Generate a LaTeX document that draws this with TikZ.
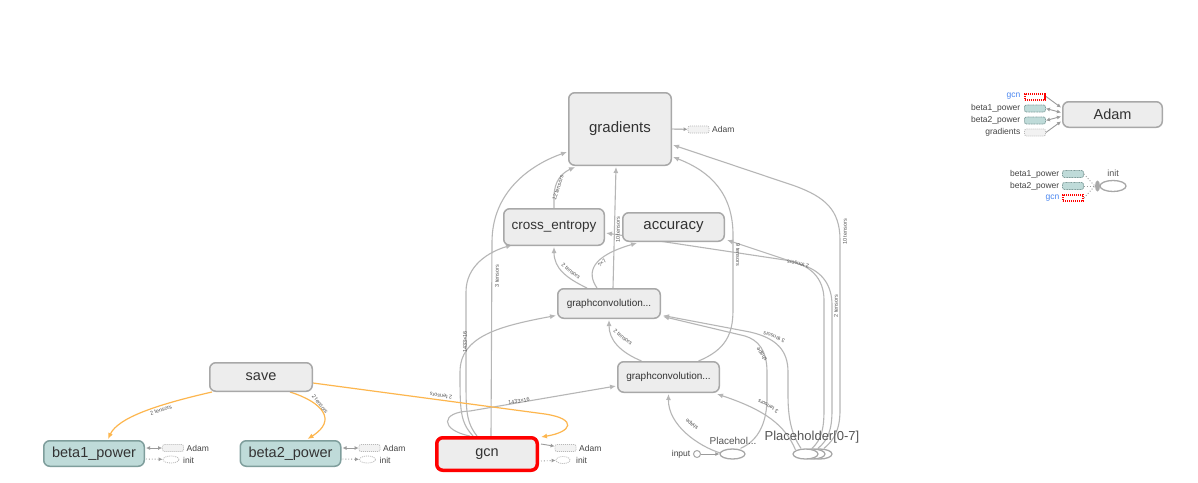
\documentclass[tikz,border=0pt]{standalone}
\usepackage{fontspec}
\setmainfont{Liberation Sans}
\usetikzlibrary{arrows.meta,calc,backgrounds,shapes.geometric}
\definecolor{edgegray}{HTML}{B6B6B6}
\definecolor{nodefill}{HTML}{EDEDED}
\definecolor{nodedraw}{HTML}{A8A8A8}
\definecolor{tealfill}{HTML}{BFDBD9}
\definecolor{tealdraw}{HTML}{7F9E9C}
\definecolor{orangeedge}{HTML}{FDB64E}
\definecolor{txt}{HTML}{333333}
\definecolor{labgray}{HTML}{555555}
\definecolor{sidegray}{HTML}{444444}
\definecolor{gcnblue}{HTML}{4A86F0}
\definecolor{smalldraw}{HTML}{B8B8B8}
\definecolor{smallfill}{HTML}{F2F2F2}
\definecolor{redborder}{HTML}{FF0000}
\begin{document}
\begin{tikzpicture}[x=1pt,y=-1pt,
  meta/.style={draw=nodedraw, fill=nodefill, line width=1.5pt, rounded corners=6pt, inner sep=0pt, text=txt, font=\fontsize{14.5}{16}\selectfont},
  gconv/.style={meta, font=\fontsize{10}{12}\selectfont},
  varnode/.style={meta, draw=tealdraw, fill=tealfill},
  e/.style={draw=edgegray, line width=1.1pt, -{Latex[length=6pt,width=5pt]}},
  oe/.style={draw=orangeedge, line width=1.2pt, -{Latex[length=6pt,width=5pt]}},
  se/.style={draw=edgegray!85!black, line width=0.9pt, -{Latex[length=4pt,width=4pt]}},
  sbe/.style={draw=edgegray!85!black, line width=0.9pt, {Latex[length=4pt,width=4pt]}-{Latex[length=4pt,width=4pt]}},
  sde/.style={draw=edgegray!85!black, line width=0.9pt, dotted, -{Latex[length=4pt,width=4pt]}},
  lab/.style={font=\fontsize{5.5}{6}\selectfont, text=labgray, inner sep=0pt},
  side/.style={font=\fontsize{8.5}{10}\selectfont, text=sidegray, inner sep=0pt},
  graybox/.style={draw=smalldraw, dash pattern=on 1pt off 1pt, fill=smallfill, minimum width=21pt, minimum height=7pt, rounded corners=2pt, inner sep=0pt, line width=0.8pt},
  tealbox/.style={draw=tealdraw, dash pattern=on 1pt off 0.6pt, fill=tealfill, minimum width=21pt, minimum height=7pt, rounded corners=2pt, inner sep=0pt, line width=0.8pt},
  redbox/.style={draw=redborder, dash pattern=on 1.2pt off 0.8pt, fill=white, minimum width=20pt, minimum height=6pt, inner sep=0pt, line width=2pt},
  initell/.style={ellipse, draw=smalldraw, dash pattern=on 1pt off 1pt, fill=white, minimum width=16pt, minimum height=7pt, inner sep=0pt, line width=0.8pt},
  phell/.style={ellipse, draw=nodedraw, fill=white, line width=1.3pt, minimum width=25pt, minimum height=10pt, inner sep=0pt}
]
\useasboundingbox (0,0) rectangle (1198,482);

% ---------- main nodes ----------
\node[meta, font=\fontsize{15}{17}\selectfont, minimum width=102.5pt, minimum height=72.5pt] (grad) at (620,129) {gradients};
\node[meta, font=\fontsize{13.5}{16}\selectfont, minimum width=100.5pt, minimum height=36.5pt] (ce) at (554,227) {cross\_entropy};
\node[meta, font=\fontsize{15}{17}\selectfont, minimum width=101.5pt, minimum height=28.5pt] (acc) at (673.5,227) {accuracy};
\node[gconv, minimum width=102.5pt, minimum height=29.5pt] (gcu) at (609,303.5) {graphconvolution...};
\node[gconv, minimum width=101.5pt, minimum height=30.5pt] (gcl) at (668.5,377) {graphconvolution...};
\node[meta, minimum width=102.5pt, minimum height=28.5pt] (save) at (261,377) {save};
\node[varnode, minimum width=100.5pt, minimum height=25.5pt] (b1) at (94,453.5) {beta1\_power};
\node[varnode, minimum width=100.5pt, minimum height=25.5pt] (b2) at (290.5,453.5) {beta2\_power};
\node[meta, draw=redborder, line width=3.5pt, minimum width=100.5pt, minimum height=32.5pt] (gcn) at (487,454) {gcn};

% placeholders
\node[phell] (ph0) at (732.5,454) {};
\node[font=\fontsize{10}{12}\selectfont, text=labgray, inner sep=0pt] (ph0l) at (733,440.5) {Placehol...};
\node[circle, draw=nodedraw, fill=white, line width=1pt, minimum size=7pt, inner sep=0pt] (inp) at (697,454) {};
\node[side, anchor=east] (inpl) at (690.5,454) {input};
\node[phell] (ph2) at (819.5,454) {};
\node[phell] (ph1) at (812.5,454) {};
\node[phell] (ph) at (805.5,454) {};
\node[font=\fontsize{13}{15}\selectfont, text=labgray, inner sep=0pt] (phl) at (812,437) {Placeholder[0-7]};

% ---------- side annotations ----------
\node[graybox] (gradadam) at (698.5,129.5) {};
\node[side, anchor=west] (gradadaml) at (712,129.5) {Adam};

\node[graybox] (b1adam) at (173,448) {};
\node[side, anchor=west] (b1adaml) at (186.5,448) {Adam};
\node[initell] (b1init) at (171,459.5) {};
\node[side, anchor=west] (b1initl) at (183,460) {init};

\node[graybox] (b2adam) at (369.5,448) {};
\node[side, anchor=west] (b2adaml) at (383,448) {Adam};
\node[initell] (b2init) at (367.5,459.5) {};
\node[side, anchor=west] (b2initl) at (379.5,460) {init};

\node[graybox] (gcnadam) at (565.5,448) {};
\node[side, anchor=west] (gcnadaml) at (579,448) {Adam};
\node[initell, minimum width=14pt] (gcninit) at (563,460) {};
\node[side, anchor=west] (gcninitl) at (576,460) {init};

% ---------- top right: Adam ----------
\node[meta, minimum width=99.5pt, minimum height=25.5pt] (adamR) at (1112.5,114.5) {Adam};
\node[redbox] (rgcn) at (1035,96.5) {};
\node[side, anchor=east, text=gcnblue] (rgcnl) at (1020.5,96.5) {gcn};
\node[tealbox] (rb1) at (1035,108.5) {};
\node[side, anchor=east] (rb1l) at (1020.5,108.5) {beta1\_power};
\node[tealbox] (rb2) at (1035,120.5) {};
\node[side, anchor=east] (rb2l) at (1020.5,120.5) {beta2\_power};
\node[graybox] (rgr) at (1035,132.5) {};
\node[side, anchor=east] (rgrl) at (1020.5,132.5) {gradients};

% ---------- top right: init ----------
\node[ellipse, draw=nodedraw, fill=white, line width=1.3pt, minimum width=26pt, minimum height=11pt, inner sep=0pt] (initR) at (1113,186) {};
\node[font=\fontsize{9}{10}\selectfont, text=labgray, inner sep=0pt] (initRl) at (1113,173) {init};
\node[ellipse, fill=nodedraw, minimum width=5pt, minimum height=11pt, inner sep=0pt] (blob) at (1097.5,186) {};
\node[tealbox] (ib1) at (1073,174) {};
\node[side, anchor=east] (ib1l) at (1059.5,174) {beta1\_power};
\node[tealbox] (ib2) at (1073,186) {};
\node[side, anchor=east] (ib2l) at (1059.5,186) {beta2\_power};
\node[redbox] (igcn) at (1073,198) {};
\node[side, anchor=east, text=gcnblue] (igcnl) at (1059.5,198) {gcn};

% ---------- edge labels ----------
\node[lab, rotate=10] (l1) at (519,401) {1433×16};
\node[lab, rotate=90] (l2) at (465,342) {1433×16};
\node[lab, rotate=90] (l4) at (497,276) {3 tensors};
\node[lab, rotate=72] (l5) at (558,188) {12 tensors};
\node[lab, rotate=90] (l6) at (618,230) {10 tensors};
\node[lab, rotate=-40] (l7) at (571,271) {2 tensors};
\node[lab, rotate=45] (l8) at (602,263) {?×7};
\node[lab, rotate=168] (l9) at (798,264) {2 tensors};
\node[lab, rotate=90] (l10) at (836,306) {2 tensors};
\node[lab, rotate=90] (l11) at (845,232) {10 tensors};
\node[lab, rotate=160] (l12) at (774,337) {3 tensors};
\node[lab, rotate=125] (l13) at (762,354) {shape};
\node[lab, rotate=150] (l14) at (768,406) {3 tensors};
\node[lab, rotate=140] (l15) at (692,424) {shape};
\node[lab, rotate=-90] (l16) at (738,255) {9 tensors};
\node[lab, rotate=-40] (l17) at (623,337) {2 tensors};
\node[lab, rotate=18] (lo1) at (161,410) {2 tensors};
\node[lab, rotate=-52] (lo2) at (320,404) {2 tensors};
\node[lab, rotate=172] (lo3) at (441,396) {2 tensors};

% ---------- edges ----------
\begin{scope}[on background layer]
\fill[white] (0,0) rectangle (1198,482);
% gcn outputs
\draw[e] ($(gcn.north)+(-17,0)$) .. controls (440,430) and (440,412) .. (470,411) -- ($(gcl.west)+(-1,9)$);
\draw[e] ($(gcn.north)+(-14,0)$) .. controls (460,422) and (460,410) .. (460,372) .. controls (460,336) and (500,326) .. ($(gcu.west)+(-1,12)$);
\draw[e] ($(gcn.north)+(-10,0)$) .. controls (466,422) and (466,410) .. (466,380) -- (466,292) .. controls (466,266) and (488,252) .. ($(ce.south west)+(9,-1)$);
\draw[e] ($(gcn.north)+(4,0)$) -- (492,242) .. controls (492,192) and (530,165) .. ($(grad.south west)+(-1,-14)$);
% upper structure
\draw[e] (ce.north) -- (554,197) .. controls (554,181) and (562,173) .. ($(grad.south west)+(7,1)$);
\draw[e] ($(gcu.north)+(4,0)$) -- ($(grad.south)+(-4,1)$);
\draw[e] ($(gcu.north)+(-22,0)$) .. controls (566,278) and (554,268) .. ($(ce.south)+(0,1)$);
\draw[e] ($(gcu.north)+(-12,0)$) .. controls (586,272) and (592,256) .. ($(acc.south west)+(15,1)$);
\draw[e] ($(gcl.north)+(-27,0)$) .. controls (620,352) and (609,340) .. ($(gcu.south)+(0,1)$);
\draw[e] ($(gcl.north)+(30,0)$) .. controls (725,350) and (733,335) .. (733,310) -- (733,235) .. controls (733,195) and (712,172) .. ($(grad.east)+(1,28)$);
% Placeholder[0-7] outputs
\draw[e] ($(ph.north)+(6.5,0)$) .. controls (821,440) and (824,430) .. (824,410) -- (824,300) .. controls (824,278) and (810,264) .. (785,260) -- ($(ce.east)+(1,6)$);
\draw[e] ($(ph1.north)+(5.5,0)$) .. controls (828,440) and (832,430) .. (832,410) -- (832,305) .. controls (832,285) and (822,272) .. (805,266) -- ($(acc.south east)+(2,-2)$);
\draw[e] ($(ph2.north)+(4.5,0)$) .. controls (834,440) and (840,430) .. (840,410) -- (840,240) .. controls (840,210) and (825,197) .. (795,186) -- ($(grad.east)+(1,16)$);
\draw[e] ($(ph.north)+(-4.5,0)$) .. controls (792,435) and (788,420) .. (788,395) -- (788,372) .. controls (788,350) and (776,338) .. (750,332) -- ($(gcu.east)+(2,12)$);
\draw[e] ($(ph.north)+(-10,1.5)$) .. controls (785,425) and (765,410) .. ($(gcl.south east)+(-3,1)$);
% Placehol... outputs
\draw[e] ($(ph0.north)+(8,0)$) .. controls (760,440) and (767,420) .. (767,398) -- (767,372) .. controls (767,350) and (758,340) .. (745,336) -- ($(gcu.east)+(2,13)$);
\draw[e] ($(ph0.west)+(1,-1)$) .. controls (698,446) and (668,425) .. ($(gcl.south)+(0,1)$);
\draw[se] (inp) -- (ph0);
% save outputs
\draw[oe] ($(save.south west)+(3,0)$) .. controls (155,405) and (118,418) .. ($(b1.north)+(14,-1)$);
\draw[oe] ($(save.south)+(29,0)$) .. controls (322,402) and (338,420) .. ($(b2.north)+(17,-1)$);
\draw[oe] ($(save.east)+(0,6)$) -- (545,414) .. controls (578,419) and (572,432) .. ($(gcn.north east)+(2,1)$);
% side edges
\draw[se] (grad.east) -- (gradadam);
\draw[sbe] ($(b1.east)+(1,-5.5)$) -- (b1adam);
\draw[sde] ($(b1.east)+(1,5.5)$) -- (b1init);
\draw[sbe] ($(b2.east)+(1,-5.5)$) -- (b2adam);
\draw[sde] ($(b2.east)+(1,5.5)$) -- (b2init);
\draw[se] ($(gcn.east)+(2,-10)$) -- (gcnadam);
\draw[sde] ($(gcn.east)+(2,7)$) -- (gcninit);
\draw[se] (rgcn.east) -- ($(adamR.west)+(-1,-7)$);
\draw[sbe] (rb1.east) -- ($(adamR.west)+(-1,-2)$);
\draw[sbe] (rb2.east) -- ($(adamR.west)+(-1,2)$);
\draw[se] (rgr.east) -- ($(adamR.west)+(-1,7)$);
\draw[dotted, draw=edgegray!85!black, line width=0.9pt] (ib1.east) -- (blob.west);
\draw[dotted, draw=edgegray!85!black, line width=0.9pt] (ib2.east) -- (blob.west);
\draw[dotted, draw=edgegray!85!black, line width=0.9pt] (igcn.east) -- (blob.west);
\draw[draw=nodedraw, line width=1pt] (blob) -- (initR);
\end{scope}
\end{tikzpicture}
\end{document}
